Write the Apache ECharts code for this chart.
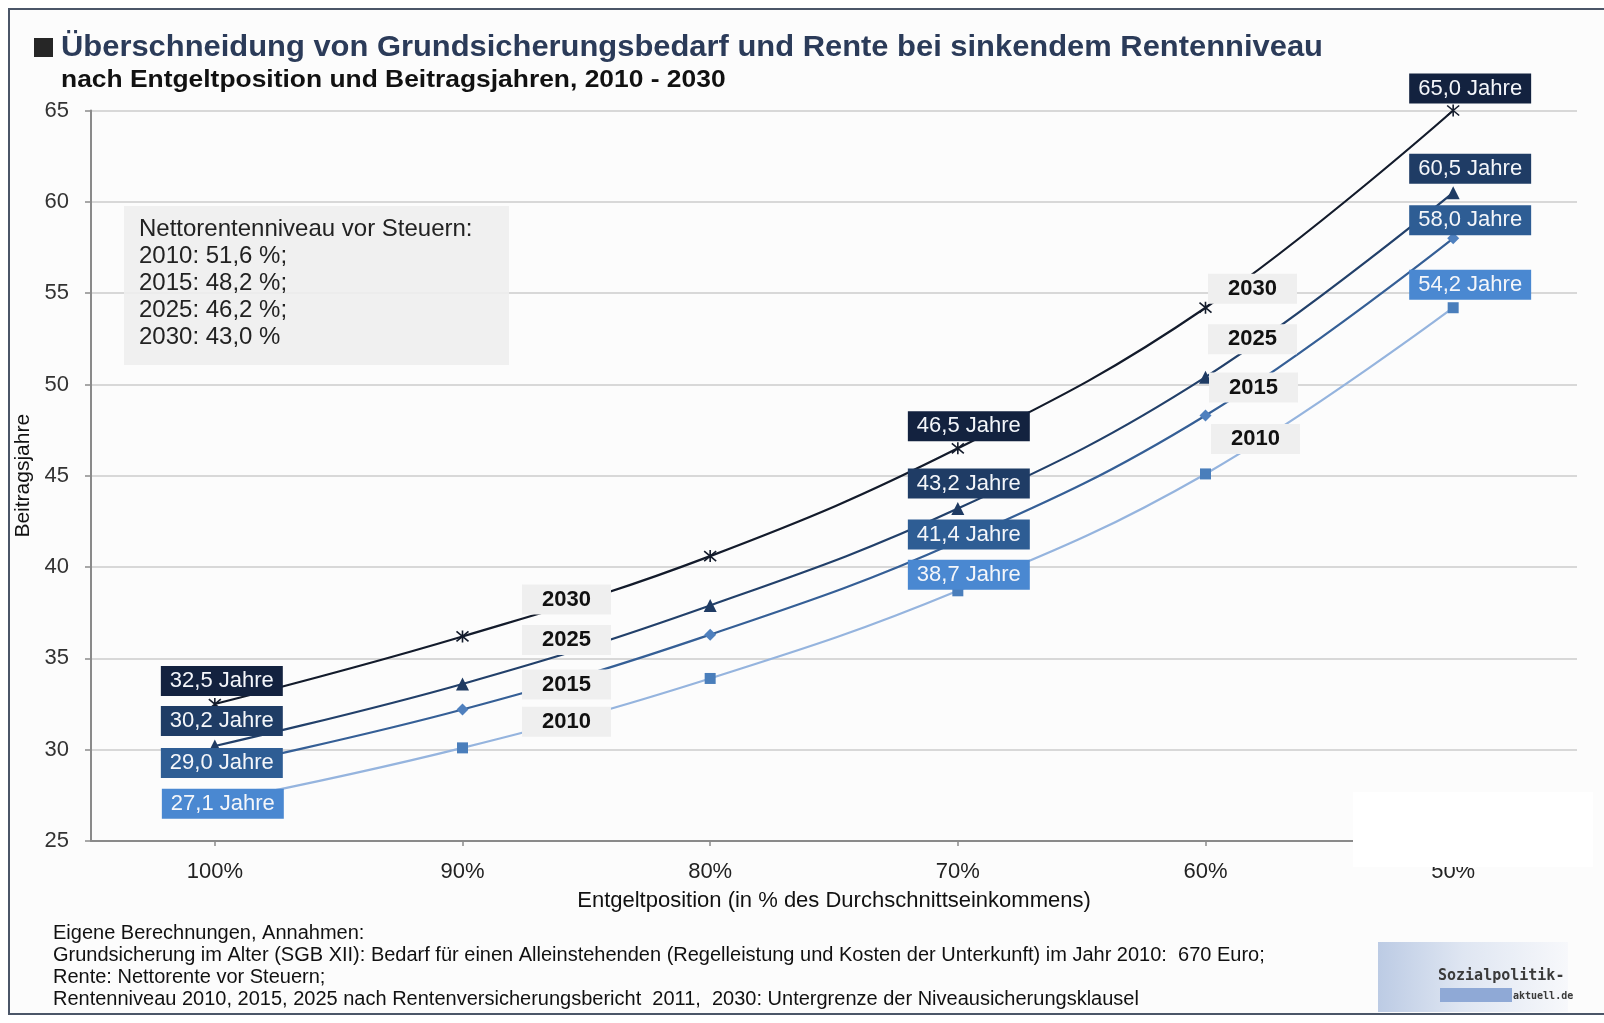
<!DOCTYPE html>
<html>
<head>
<meta charset="utf-8">
<script src="https://cdn.jsdelivr.net/npm/echarts@6/dist/echarts.min.js"></script>
<style>
  html, body { margin: 0; padding: 0; background: #ffffff; }
  #chart { width: 1604px; height: 1023px; }
</style>
</head>
<body>
<div id="chart"></div>
<script>
// Entgeltposition (share of average income) on the x axis
const categories = ['100%', '90%', '80%', '70%', '60%', '50%'];

// Beitragsjahre needed to reach the Grundsicherung level, per Rentenniveau year
const seriesNames = ['2030', '2025', '2015', '2010'];
const years2030 = [32.5, 36.2, 40.6, 46.5, 54.2, 65.0];
const years2025 = [30.2, 33.6, 37.9, 43.2, 50.4, 60.5];
const years2015 = [29.0, 32.2, 36.3, 41.4, 48.3, 58.0];
const years2010 = [27.1, 30.1, 33.9, 38.7, 45.1, 54.2];

// y axis range
const yMin = 25;
const yMax = 65;
const yStep = 5;

// points carrying a value box / the year tag
const valueLabelIdx = [0, 3, 5];
const yearLabelIdx = [1, 4];

// Nettorentenniveau box
const levelLines = [
  'Nettorentenniveau vor Steuern:',
  '2010: 51,6 %;',
  '2015: 48,2 %;',
  '2025: 46,2 %;',
  '2030: 43,0 %'
];

const noteLines = [
  'Eigene Berechnungen, Annahmen:',
  'Grundsicherung im Alter (SGB XII): Bedarf für einen Alleinstehenden (Regelleistung und Kosten der Unterkunft) im Jahr 2010:  670 Euro;',
  'Rente: Nettorente vor Steuern;',
  'Rentenniveau 2010, 2015, 2025 nach Rentenversicherungsbericht  2011,  2030: Untergrenze der Niveausicherungsklausel'
];

const titleText = 'Überschneidung von Grundsicherungsbedarf und Rente bei sinkendem Rentenniveau';
const subtitleText = 'nach Entgeltposition und Beitragsjahren, 2010 - 2030';

// ---- styling ----
const FONT = '"Liberation Sans", Arial, sans-serif';

const styles = {
  '2030': { line: '#131b2b', box: '#13223f', symbol: 'path://M0,0L10,10M10,0L0,10M5,-1L5,11', size: 12, stroke: true },
  '2025': { line: '#22406a', box: '#1f3c65', symbol: 'triangle', size: 13, marker: '#1f3b63' },
  '2015': { line: '#355f96', box: '#2e5d94', symbol: 'diamond', size: 12, marker: '#4f80be' },
  '2010': { line: '#95b4de', box: '#4a88d1', symbol: 'rect', size: 11, marker: '#4a7ebb' }
};

// label offsets relative to their point (pixels)
const valueOffsets = {
  '2030': { 0: [7, -23], 3: [11, -22], 5: [17, -22] },
  '2025': { 0: [7, -25], 3: [11, -25], 5: [17, -24] },
  '2015': { 0: [7, -5],  3: [11, -7],  5: [17, -18] },
  '2010': { 0: [8, 1],   3: [11, -16], 5: [17, -23] }
};
const yearOffsets = {
  '2030': { 1: [104, -37], 4: [47, -19] },
  '2025': { 1: [104, -44], 4: [47, -38] },
  '2015': { 1: [104, -25], 4: [48, -28] },
  '2010': { 1: [104, -26], 4: [50, -35] }
};

const seriesValues = { '2030': years2030, '2025': years2025, '2015': years2015, '2010': years2010 };

function fmtYears(v) {
  return v.toFixed(1).replace('.', ',') + ' Jahre';
}

function buildSeries(name) {
  const st = styles[name];
  const data = seriesValues[name].map(function (v, i) {
    const item = { value: v };
    if (valueLabelIdx.indexOf(i) >= 0) {
      item.label = {
        show: true,
        position: 'inside',
        offset: valueOffsets[name][i],
        formatter: fmtYears(v),
        color: '#f4f6fa',
        fontFamily: FONT,
        fontSize: 22,
        lineHeight: 22,
        backgroundColor: st.box,
        padding: [4, 9, 4, 9]
      };
    } else if (yearLabelIdx.indexOf(i) >= 0) {
      item.label = {
        show: true,
        position: 'inside',
        offset: yearOffsets[name][i],
        formatter: name,
        color: '#111111',
        fontFamily: FONT,
        fontWeight: 'bold',
        fontSize: 22,
        lineHeight: 22,
        backgroundColor: '#efefef',
        padding: [4, 20, 4, 20]
      };
    }
    return item;
  });
  const itemStyle = st.stroke
    ? { color: 'rgba(0,0,0,0)', borderColor: st.line, borderWidth: 1.6 }
    : { color: st.marker, borderWidth: 0 };
  return {
    name: name,
    type: 'line',
    smooth: 0.4,
    data: data,
    symbol: st.symbol,
    symbolSize: st.size,
    showAllSymbol: true,
    lineStyle: { color: st.line, width: 2.2 },
    itemStyle: itemStyle,
    label: { show: false },
    emphasis: { disabled: true },
    animation: false
  };
}

const graphics = [
  // outer frame
  { type: 'rect', shape: { x: 9, y: 9, width: 1600, height: 1005 }, style: { fill: '#fcfcfc', stroke: '#4b5668', lineWidth: 2 }, z: -10, silent: true },
  // title
  { type: 'rect', shape: { x: 34, y: 38, width: 19, height: 19 }, style: { fill: '#262626' }, z: 50 },
  { type: 'text', x: 61, y: 48, scaleX: 1.03, style: { text: titleText, fill: '#2b3b59', font: 'bold 30px ' + FONT, verticalAlign: 'middle' }, z: 50 },
  { type: 'text', x: 61, y: 80, scaleX: 1.1, style: { text: subtitleText, fill: '#111111', font: 'bold 24px ' + FONT, verticalAlign: 'middle' }, z: 50 },
  // Nettorentenniveau box
  { type: 'rect', shape: { x: 124, y: 206, width: 385, height: 159 }, style: { fill: 'rgba(238,238,238,0.88)' }, z: 50 },
  { type: 'text', x: 139, y: 215.5, style: { text: levelLines.join('\n'), fill: '#222222', font: '24px ' + FONT, lineHeight: 27, verticalAlign: 'top' }, z: 51 },
  // white patch over the bottom right of the axis
  { type: 'rect', shape: { x: 1353, y: 792, width: 240, height: 75 }, style: { fill: '#ffffff' }, z: 60 },
  // notes
  { type: 'text', x: 53, y: 923, style: { text: noteLines.join('\n'), fill: '#111111', font: '20px ' + FONT, lineHeight: 21.8, verticalAlign: 'top' }, z: 50 },
  // logo
  { type: 'rect', shape: { x: 1378, y: 942, width: 190, height: 70 }, style: { fill: new echarts.graphic.LinearGradient(0, 0, 1, 0, [
      { offset: 0, color: '#bccbe4' }, { offset: 0.45, color: '#dfe6f2' }, { offset: 1, color: '#f7f8fb' }]) }, z: 50 },
  { type: 'rect', shape: { x: 1440, y: 988, width: 72, height: 14 }, style: { fill: '#8fa9d6' }, z: 51 },
  { type: 'text', x: 1438, y: 976, style: { text: 'Sozialpolitik-', fill: '#3a3a3a', font: 'bold 15px "DejaVu Sans Mono", monospace', verticalAlign: 'middle' }, z: 52 },
  { type: 'text', x: 1513, y: 996, style: { text: 'aktuell.de', fill: '#3a3a3a', font: 'bold 10px "DejaVu Sans Mono", monospace', verticalAlign: 'middle' }, z: 52 }
];

const chart = echarts.init(document.getElementById('chart'), null, { renderer: 'canvas' });
chart.setOption({
  backgroundColor: '#ffffff',
  animation: false,
  grid: { left: 91, right: 27, top: 110.5, bottom: 182 },
  xAxis: {
    type: 'category',
    data: categories,
    boundaryGap: true,
    axisLine: { show: true, lineStyle: { color: '#8a8a8a', width: 2 } },
    axisTick: { show: true, alignWithLabel: true, length: 5, lineStyle: { color: '#8a8a8a', width: 1.5 } },
    axisLabel: { color: '#222222', fontFamily: FONT, fontSize: 22, margin: 20 },
    name: 'Entgeltposition (in % des Durchschnittseinkommens)',
    nameLocation: 'middle',
    nameGap: 49,
    nameTextStyle: { color: '#111111', fontFamily: FONT, fontSize: 22 }
  },
  yAxis: {
    type: 'value',
    min: yMin,
    max: yMax,
    interval: yStep,
    axisLine: { show: true, lineStyle: { color: '#8a8a8a', width: 2 } },
    axisTick: { show: true, length: 6, lineStyle: { color: '#8a8a8a', width: 1.5 } },
    axisLabel: { color: '#333333', fontFamily: FONT, fontSize: 22, margin: 22 },
    splitLine: { show: true, lineStyle: { color: '#cdcdcd', width: 1.5 } },
    name: 'Beitragsjahre',
    nameLocation: 'middle',
    nameRotate: 90,
    nameGap: 57,
    nameTextStyle: { color: '#111111', fontFamily: FONT, fontSize: 21 }
  },
  series: seriesNames.map(buildSeries),
  graphic: graphics
});
</script>
</body>
</html>
